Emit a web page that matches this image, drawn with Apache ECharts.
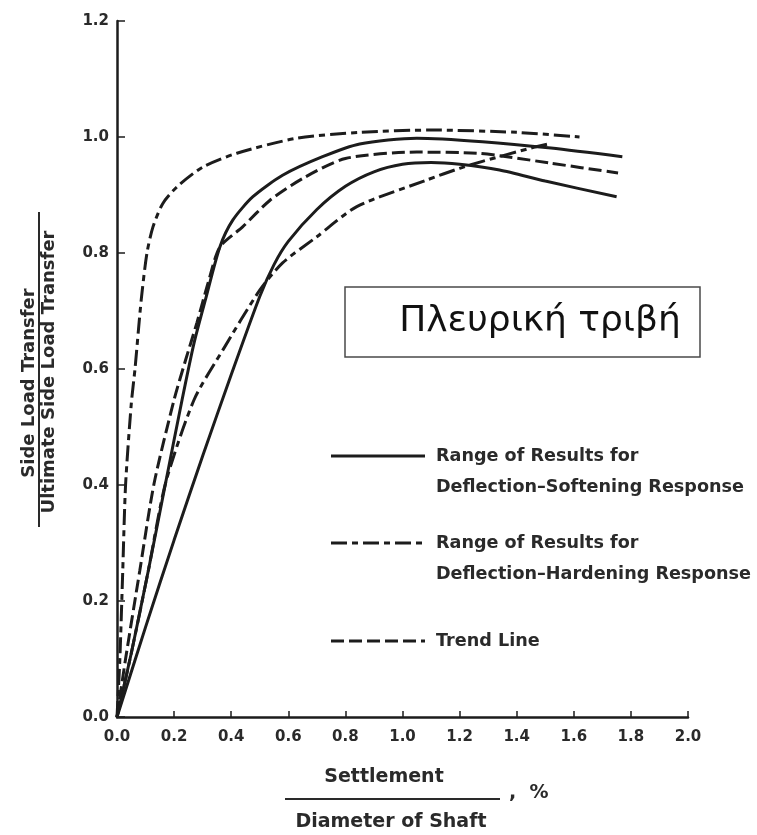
<!DOCTYPE html>
<html>
<head>
<meta charset="utf-8">
<script src="https://cdn.jsdelivr.net/npm/echarts@6/dist/echarts.min.js"></script>
<style>
  html, body { margin: 0; padding: 0; background: #ffffff; }
  #chart { width: 757px; height: 835px; }
</style>
</head>
<body>
<div id="chart"></div>
<script>
// Settlement / shaft diameter (%) vs normalised side load transfer
const xTickValues = [0.0, 0.2, 0.4, 0.6, 0.8, 1.0, 1.2, 1.4, 1.6, 1.8, 2.0];
const yTickValues = [0.0, 0.2, 0.4, 0.6, 0.8, 1.0, 1.2];

// Deflection-softening response: upper and lower bounds
const softeningUpper = [
  [0, 0], [0.05, 0.11], [0.11, 0.253], [0.17, 0.403], [0.228, 0.547], [0.27, 0.645],
  [0.31, 0.72], [0.36, 0.81], [0.406, 0.857], [0.476, 0.897], [0.58, 0.934],
  [0.72, 0.966], [0.85, 0.988], [1.05, 0.998], [1.28, 0.992], [1.52, 0.981], [1.77, 0.966]
];
const softeningLower = [
  [0, 0], [0.1, 0.155], [0.2, 0.305], [0.3, 0.45], [0.4, 0.59], [0.5, 0.725],
  [0.55, 0.78], [0.6, 0.82], [0.7, 0.875], [0.8, 0.915], [0.9, 0.94], [1.0, 0.953],
  [1.1, 0.956], [1.2, 0.953], [1.34, 0.943], [1.5, 0.924], [1.75, 0.897]
];

// Deflection-hardening response: upper and lower bounds
const hardeningUpper = [
  [0, 0], [0.01, 0.1], [0.02, 0.25], [0.03, 0.4], [0.05, 0.54], [0.063, 0.6],
  [0.085, 0.72], [0.105, 0.8], [0.126, 0.845], [0.16, 0.885], [0.21, 0.914],
  [0.3, 0.948], [0.42, 0.972], [0.63, 0.998], [0.85, 1.008], [1.1, 1.012],
  [1.4, 1.008], [1.62, 1.0]
];
const hardeningLower = [
  [0, 0], [0.05, 0.11], [0.11, 0.253], [0.17, 0.403], [0.27, 0.547], [0.371, 0.633],
  [0.5, 0.736], [0.58, 0.783], [0.7, 0.828], [0.84, 0.88], [1.086, 0.926],
  [1.2, 0.946], [1.28, 0.958], [1.45, 0.981], [1.51, 0.988]
];

// Trend line
const trendLine = [
  [0, 0], [0.03, 0.1], [0.08, 0.253], [0.13, 0.403], [0.2, 0.547], [0.24, 0.615],
  [0.28, 0.68], [0.32, 0.75], [0.36, 0.81], [0.44, 0.845], [0.536, 0.891],
  [0.652, 0.929], [0.8, 0.963], [1.05, 0.974], [1.26, 0.972], [1.366, 0.966],
  [1.517, 0.955], [1.755, 0.938]
];

const INK = '#1c1c1c';
const TEXT = '#2a2a2a';
const FONT = '"DejaVu Sans", sans-serif';
const softStyle = { color: INK, width: 3, type: 'solid' };
const hardStyle = { color: INK, width: 3, type: [16, 5, 6, 5] };
const trendStyle = { color: INK, width: 3, type: [13, 5] };

function curve(name, data, style) {
  return {
    name: name,
    type: 'line',
    data: data,
    smooth: 0.25,
    showSymbol: false,
    symbol: 'none',
    lineStyle: style,
    emphasis: { disabled: true },
    z: 3
  };
}

const chart = echarts.init(document.getElementById('chart'), null, { renderer: 'canvas' });

// Legend entries drawn as sample strokes with two-line captions
const legendRows = [
  { y: 456, style: softStyle, lines: ['Range of Results for', 'Deflection\u2013Softening Response'] },
  { y: 543, style: hardStyle, lines: ['Range of Results for', 'Deflection\u2013Hardening Response'] },
  { y: 641, style: trendStyle, lines: ['Trend Line'] }
];
const legendGraphics = [];
legendRows.forEach(function (row) {
  legendGraphics.push({
    type: 'line',
    shape: { x1: 331, y1: row.y, x2: 425, y2: row.y },
    style: { stroke: INK, lineWidth: 3, lineDash: Array.isArray(row.style.type) ? row.style.type : null }
  });
  row.lines.forEach(function (t, i) {
    legendGraphics.push({
      type: 'text',
      x: 436, y: row.y + i * 31,
      style: { text: t, fill: TEXT, font: 'bold 17.6px ' + FONT, textAlign: 'left', textVerticalAlign: 'middle' }
    });
  });
});

chart.setOption({
  animation: false,
  backgroundColor: '#ffffff',
  grid: { left: 117, right: 69, top: 21, bottom: 118, containLabel: false },
  xAxis: {
    type: 'value',
    min: 0, max: 2.0, interval: 0.2,
    axisLine: { show: true, onZero: false, lineStyle: { color: INK, width: 2.5 } },
    axisTick: { show: true, inside: true, length: 6, lineStyle: { color: INK, width: 1.5 } },
    axisLabel: {
      margin: 13, color: TEXT, fontFamily: FONT, fontWeight: 'bold', fontSize: 15,
      formatter: function (v) { return v.toFixed(1); }
    },
    splitLine: { show: false }
  },
  yAxis: {
    type: 'value',
    min: 0, max: 1.2, interval: 0.2,
    axisLine: { show: true, onZero: false, lineStyle: { color: INK, width: 2.5 } },
    axisTick: { show: true, inside: true, length: 8, lineStyle: { color: INK, width: 1.5 } },
    axisLabel: {
      margin: 8, color: TEXT, fontFamily: FONT, fontWeight: 'bold', fontSize: 15,
      formatter: function (v) { return v.toFixed(1); }
    },
    splitLine: { show: false }
  },
  series: [
    curve('Deflection-Softening', softeningUpper, softStyle),
    curve('Deflection-Softening', softeningLower, softStyle),
    curve('Deflection-Hardening', hardeningUpper, hardStyle),
    curve('Deflection-Hardening', hardeningLower, hardStyle),
    curve('Trend Line', trendLine, trendStyle)
  ],
  graphic: [
    // y-axis title as a fraction, rotated
    {
      type: 'text', x: 29, y: 383, rotation: Math.PI / 2,
      style: { text: 'Side Load Transfer', fill: TEXT, font: 'bold 18px ' + FONT, textAlign: 'center', textVerticalAlign: 'middle' }
    },
    { type: 'line', shape: { x1: 39, y1: 212, x2: 39, y2: 527 }, style: { stroke: TEXT, lineWidth: 2 } },
    {
      type: 'text', x: 49, y: 372, rotation: Math.PI / 2,
      style: { text: 'Ultimate Side Load Transfer', fill: TEXT, font: 'bold 18px ' + FONT, textAlign: 'center', textVerticalAlign: 'middle' }
    },
    // x-axis title as a fraction
    {
      type: 'text', x: 384, y: 777,
      style: { text: 'Settlement', fill: TEXT, font: 'bold 19px ' + FONT, textAlign: 'center', textVerticalAlign: 'middle' }
    },
    { type: 'line', shape: { x1: 285, y1: 799, x2: 500, y2: 799 }, style: { stroke: TEXT, lineWidth: 2 } },
    {
      type: 'text', x: 509, y: 793,
      style: { text: ',  %', fill: TEXT, font: 'bold 19px ' + FONT, textAlign: 'left', textVerticalAlign: 'middle' }
    },
    {
      type: 'text', x: 391, y: 822,
      style: { text: 'Diameter of Shaft', fill: TEXT, font: 'bold 19px ' + FONT, textAlign: 'center', textVerticalAlign: 'middle' }
    },
    // framed caption
    {
      type: 'rect', shape: { x: 345, y: 287, width: 355, height: 70 },
      style: { fill: '#ffffff', stroke: '#4a4a4a', lineWidth: 1.5 }, z: 10
    },
    {
      type: 'text', x: 540, y: 322, z: 11,
      style: { text: 'Πλευρική τριβή', fill: '#111111', font: '36px ' + FONT, textAlign: 'center', textVerticalAlign: 'middle' }
    }
  ].concat(legendGraphics)
});
</script>
</body>
</html>
